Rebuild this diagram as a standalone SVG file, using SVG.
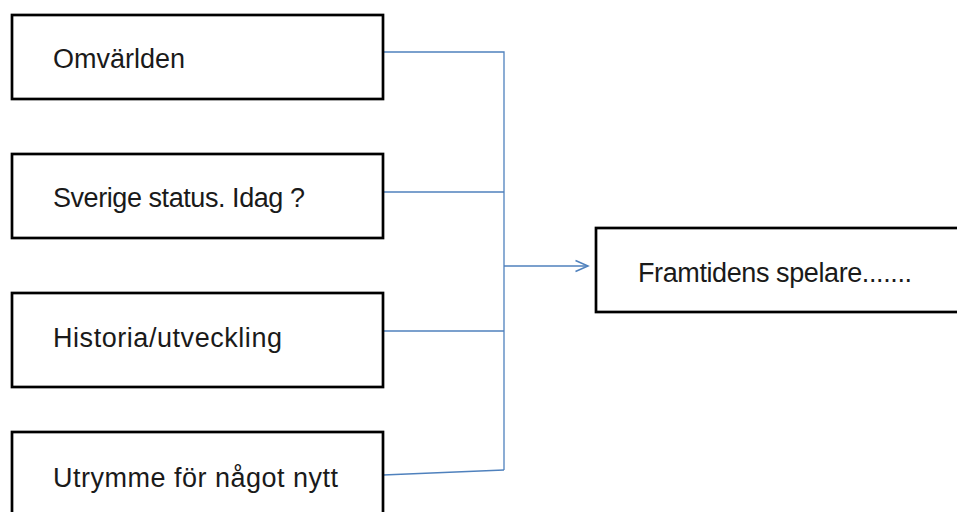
<svg xmlns="http://www.w3.org/2000/svg" width="957" height="512" viewBox="0 0 957 512">
  <defs>
    <style>
      .box { fill: #ffffff; stroke: #000000; stroke-width: 2.7; }
      .label { font-family: "Liberation Sans", Arial, sans-serif; font-size: 27px; fill: #1a1a1a; }
      .link { fill: none; stroke: #4F81BD; stroke-width: 1.3; }
    </style>
    <marker id="arrow" viewBox="0 0 16 16" refX="14" refY="8" markerWidth="16" markerHeight="16" markerUnits="userSpaceOnUse" orient="auto">
      <path d="M1.5,2.5 L14,8 L1.5,13.5" fill="none" stroke="#4F81BD" stroke-width="1.5"/>
    </marker>
  </defs>
  <rect width="957" height="512" fill="#ffffff"/>

  <!-- connectors -->
  <g id="connectors">
    <path class="link" d="M383,52 H504 V470"/>
    <path class="link" d="M383,192 H504"/>
    <path class="link" d="M383,331 H504"/>
    <path class="link" d="M383,475 L504,470"/>
    <path class="link" d="M504,266 H588" marker-end="url(#arrow)"/>
  </g>

  <g id="omvarlden">
    <rect class="box" x="12" y="15" width="371" height="84"/>
    <text class="label" x="53" y="68" textLength="132" lengthAdjust="spacing">Omvärlden</text>
  </g>

  <g id="sverige-status">
    <rect class="box" x="12" y="154" width="371" height="84"/>
    <text class="label" x="53" y="207" textLength="252" lengthAdjust="spacing">Sverige status. Idag ?</text>
  </g>

  <g id="historia">
    <rect class="box" x="12" y="293" width="371" height="94"/>
    <text class="label" x="53" y="347" textLength="229" lengthAdjust="spacing">Historia/utveckling</text>
  </g>

  <g id="utrymme">
    <rect class="box" x="12" y="432" width="371" height="100"/>
    <text class="label" x="53" y="487" textLength="285" lengthAdjust="spacing">Utrymme för något nytt</text>
  </g>

  <g id="framtidens-spelare">
    <rect class="box" x="596" y="228" width="380" height="84"/>
    <text class="label" x="638" y="282" textLength="274" lengthAdjust="spacing">Framtidens spelare.......</text>
  </g>
</svg>
